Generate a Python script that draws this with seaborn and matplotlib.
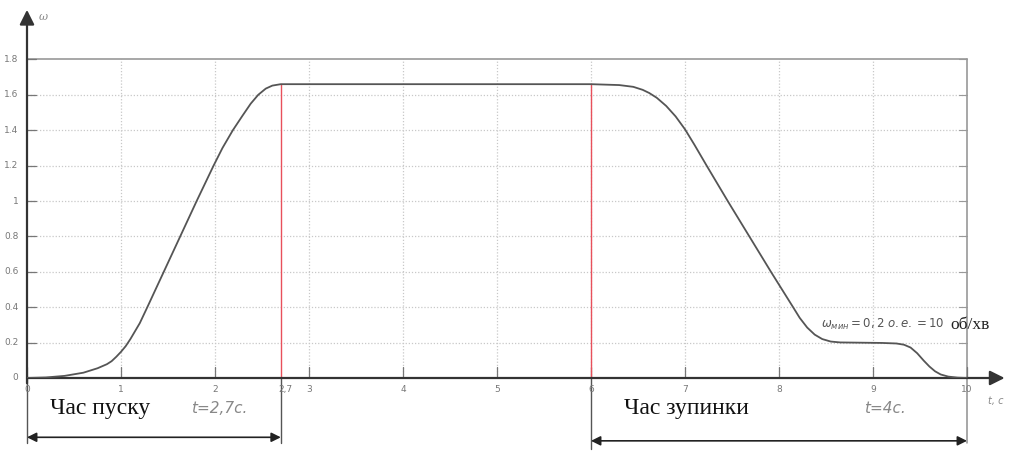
import numpy as np
import pandas as pd
import matplotlib
matplotlib.use("Agg")
import matplotlib.pyplot as plt
import seaborn as sns

# ---------------- data ----------------
t_vals = [0.0, 0.2, 0.4, 0.6, 0.75, 0.85, 0.9, 0.95, 1.0, 1.05, 1.1, 1.15, 1.2, 1.28, 1.455, 1.63, 1.805,
          1.985, 2.08, 2.19, 2.29, 2.38, 2.46, 2.54, 2.61, 2.7,
          6.0, 6.3, 6.45, 6.55, 6.62, 6.7, 6.8, 6.9, 7.0, 7.1, 7.23, 7.46, 7.69, 7.92,
          8.15, 8.22, 8.3, 8.38, 8.46, 8.55, 8.65, 8.8, 9.1, 9.25, 9.33, 9.4, 9.47, 9.54, 9.6, 9.66,
          9.72, 9.8, 9.9, 10.0]
w_vals = [0.0, 0.003, 0.012, 0.03, 0.055, 0.078, 0.095, 0.12, 0.148, 0.18, 0.22, 0.265, 0.31, 0.4, 0.6, 0.8, 1.0,
          1.2, 1.3, 1.4, 1.48, 1.55, 1.6, 1.635, 1.652, 1.66,
          1.66, 1.655, 1.645, 1.628, 1.61, 1.583, 1.537, 1.478, 1.405, 1.318, 1.2, 0.995, 0.795, 0.595,
          0.4, 0.34, 0.285, 0.245, 0.22, 0.206, 0.201, 0.2, 0.198, 0.195, 0.188, 0.172, 0.14, 0.098, 0.065, 0.038,
          0.02, 0.008, 0.002, 0.0]
x_ticks = [0, 1, 2, 3, 4, 5, 6, 7, 8, 9, 10]
y_ticks = [0, 0.2, 0.4, 0.6, 0.8, 1, 1.2, 1.4, 1.6, 1.8]
y_tick_labels = ["0", "0.2", "0.4", "0.6", "0.8", "1", "1.2", "1.4", "1.6", "1.8"]
t_start = 2.7   # час пуску
t_stop = 6.0    # початок зупинки
t_end = 10.0
w_max = 1.66

df = pd.DataFrame({"t": t_vals, "w": w_vals})

sns.set_style("white")
plt.rcParams["font.family"] = ["DejaVu Sans"]

fig = plt.figure(figsize=(10.13, 4.54), dpi=100)
ax = fig.add_axes([27 / 1013, 76 / 454, 977.6 / 1013, 371.7 / 454])
ax.set_xlim(0, 10.4)
ax.set_ylim(0, 2.1)
for s in ax.spines.values():
    s.set_visible(False)
ax.set_xticks([])
ax.set_yticks([])

grid_c = "#c8c8c8"
# сітка
for yv in y_ticks[1:-1]:
    ax.plot([0, t_end], [yv, yv], color=grid_c, lw=0.9, ls=(0, (1, 1.5)), zorder=1)
for xv in x_ticks[1:-1]:
    ax.plot([xv, xv], [0, 1.8], color=grid_c, lw=0.9, ls=(0, (1, 1.5)), zorder=1)
ax.plot([0, t_end], [1.8, 1.8], color="#a0a0a0", lw=1.3, zorder=1)
ax.plot([t_end, t_end], [-0.37, 1.8], color="#909090", lw=1.1, zorder=1, clip_on=False)

# поділки
for yv, lab in zip(y_ticks, y_tick_labels):
    ax.plot([0, 0.1], [yv, yv], color="#777777", lw=0.9, zorder=2)
    ax.plot([t_end - 0.08, t_end], [yv, yv], color="#999999", lw=0.8, zorder=2)
    ax.text(-0.09, yv, lab, ha="right", va="center", fontsize=6.5, color="#777777", clip_on=False)
for xv in x_ticks:
    ax.plot([xv, xv], [0, 0.06], color="#777777", lw=0.9, zorder=2)
    ax.text(xv, -0.04, str(xv), ha="center", va="top", fontsize=6.5, color="#777777")
ax.text(t_start + 0.05, -0.04, "2,7", ha="center", va="top", fontsize=6.5, color="#777777")

# крива швидкості
sns.lineplot(data=df, x="t", y="w", ax=ax, color="#555555", lw=1.3, zorder=4,
             legend=False, sort=False, estimator=None)
ax.set_xlabel("")
ax.set_ylabel("")

# червоні вертикалі
ax.plot([t_start, t_start], [0, w_max], color="#e8505b", lw=1.0, zorder=3)
ax.plot([t_stop, t_stop], [0, w_max], color="#e8505b", lw=1.0, zorder=3)

# осі зі стрілками
arr = dict(arrowstyle="-|>", color="#333333", lw=1.6, mutation_scale=22, shrinkA=0, shrinkB=0)
ax.annotate("", xy=(10.4, 0), xytext=(0, 0), arrowprops=arr, annotation_clip=False)
ax.annotate("", xy=(0, 2.08), xytext=(0, -0.03), arrowprops=arr, annotation_clip=False)
ax.text(0.12, 2.02, "ω", fontsize=8, color="#888888", style="italic", family="DejaVu Serif")
ax.text(10.22, -0.1, "t, c", fontsize=7, color="#888888", style="italic", va="top")

# підпис мінімальної швидкості
ax.text(8.45, 0.3, r"$\omega_{мин}=0,2\ о.е.=10$", fontsize=8.5, color="#555555",
        family="DejaVu Serif", va="center")
ax.text(9.82, 0.3, "об/хв", fontsize=12.5, color="#222222", family="Liberation Serif", va="center")

# розмірні лінії
dim = dict(arrowstyle="<|-|>", color="#222222", lw=1.2, mutation_scale=14, shrinkA=0, shrinkB=0)
ax.plot([0, 0], [0, -0.37], color="#555555", lw=1.0, clip_on=False)
ax.plot([t_start, t_start], [0, -0.37], color="#555555", lw=1.0, clip_on=False)
ax.plot([t_stop, t_stop], [0, -0.4], color="#555555", lw=1.0, clip_on=False)
ax.annotate("", xy=(0, -0.335), xytext=(t_start, -0.335), arrowprops=dim, annotation_clip=False)
ax.annotate("", xy=(t_stop, -0.355), xytext=(t_end, -0.355), arrowprops=dim, annotation_clip=False)

ax.text(0.24, -0.17, "Час пуску", fontsize=17, family="Liberation Serif", color="#111111", va="center")
ax.text(1.75, -0.17, "t=2,7c.", fontsize=11, style="italic", color="#888888", va="center")
ax.text(6.35, -0.17, "Час зупинки", fontsize=17, family="Liberation Serif", color="#111111", va="center")
ax.text(8.9, -0.17, "t=4c.", fontsize=11, style="italic", color="#888888", va="center")

plt.savefig("out.png", dpi=100)
plt.close()
